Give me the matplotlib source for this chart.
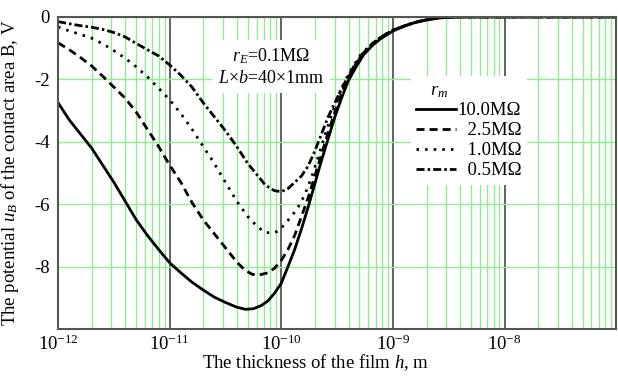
import numpy as np
import matplotlib
matplotlib.use("Agg")
import matplotlib.pyplot as plt

# log10 of film thickness h (m) and potential u_B (V)
log_h_10 = [-12.0, -11.9, -11.8, -11.7, -11.6, -11.5, -11.4, -11.3, -11.2, -11.1,
            -11.0, -10.9, -10.8, -10.7, -10.6, -10.5, -10.4, -10.32, -10.25, -10.18,
            -10.12, -10.06, -10.0, -9.94, -9.88, -9.82, -9.76, -9.70, -9.64, -9.58,
            -9.52, -9.46, -9.40, -9.33, -9.26, -9.18, -9.11, -9.0, -8.9, -8.8,
            -8.7, -8.6, -8.5, -8.4, -7.0]
u_10 = [-2.75, -3.3, -3.75, -4.2, -4.75, -5.3, -5.9, -6.5, -7.0, -7.45,
        -7.88, -8.2, -8.5, -8.75, -8.98, -9.15, -9.3, -9.37, -9.35, -9.25,
        -9.1, -8.85, -8.53, -8.0, -7.45, -6.8, -6.1, -5.35, -4.6, -3.9,
        -3.2, -2.6, -2.05, -1.6, -1.2, -0.9, -0.7, -0.45, -0.3, -0.18,
        -0.1, -0.04, -0.01, 0.0, 0.0]

log_h_25 = [-12.0, -11.9, -11.8, -11.7, -11.6, -11.5, -11.4, -11.3, -11.2, -11.1,
            -11.0, -10.9, -10.8, -10.7, -10.6, -10.5, -10.4, -10.33, -10.26, -10.2,
            -10.12, -10.06, -10.0, -9.94, -9.88, -9.82, -9.76, -9.70, -9.64, -9.58,
            -9.52, -9.46, -9.40, -9.34, -9.27, -9.19, -9.12, -9.01, -8.9, -8.8,
            -8.7, -8.6, -8.5, -8.4, -7.0]
u_25 = [-0.83, -1.05, -1.3, -1.57, -1.9, -2.25, -2.6, -3.05, -3.6, -4.15,
        -4.75, -5.3, -5.95, -6.5, -6.95, -7.4, -7.85, -8.1, -8.25, -8.27,
        -8.2, -8.05, -7.8, -7.45, -7.0, -6.4, -5.8, -5.1, -4.4, -3.7,
        -3.05, -2.45, -1.95, -1.55, -1.18, -0.88, -0.68, -0.44, -0.29, -0.17,
        -0.09, -0.03, -0.01, 0.0, 0.0]

log_h_1 = [-12.0, -11.9, -11.8, -11.7, -11.6, -11.5, -11.4, -11.3, -11.2, -11.1,
           -11.0, -10.9, -10.8, -10.7, -10.6, -10.5, -10.4, -10.3, -10.22, -10.15,
           -10.08, -10.02, -9.96, -9.9, -9.85, -9.79, -9.73, -9.67, -9.61, -9.55,
           -9.49, -9.43, -9.36, -9.29, -9.2, -9.12, -9.01, -8.9, -8.8, -8.7,
           -8.6, -8.5, -8.4, -7.0]
u_1 = [-0.32, -0.45, -0.56, -0.68, -0.86, -1.08, -1.32, -1.6, -1.92, -2.28,
       -2.66, -3.1, -3.6, -4.15, -4.7, -5.3, -5.9, -6.4, -6.7, -6.9,
       -6.93, -6.85, -6.6, -6.35, -6.1, -5.7, -5.15, -4.5, -3.8, -3.15,
       -2.55, -2.05, -1.6, -1.22, -0.9, -0.68, -0.44, -0.29, -0.17, -0.09,
       -0.03, -0.01, 0.0, 0.0]

log_h_05 = [-12.0, -11.9, -11.8, -11.7, -11.6, -11.5, -11.4, -11.3, -11.2, -11.1,
            -11.0, -10.9, -10.8, -10.7, -10.6, -10.5, -10.4, -10.3, -10.22, -10.14,
            -10.06, -10.0, -9.94, -9.88, -9.82, -9.76, -9.70, -9.64, -9.58, -9.52,
            -9.46, -9.40, -9.34, -9.27, -9.19, -9.12, -9.01, -8.9, -8.8, -8.7,
            -8.6, -8.5, -8.4, -7.0]
u_05 = [-0.15, -0.22, -0.28, -0.33, -0.4, -0.5, -0.64, -0.85, -1.05, -1.25,
        -1.54, -1.87, -2.25, -2.75, -3.2, -3.65, -4.15, -4.7, -5.05, -5.4,
        -5.57, -5.6, -5.5, -5.3, -5.1, -4.78, -4.3, -3.75, -3.2, -2.75,
        -2.3, -1.9, -1.52, -1.18, -0.88, -0.68, -0.44, -0.29, -0.17, -0.09,
        -0.03, -0.01, 0.0, 0.0]

labels = ["10.0M\u03a9", "  2.5M\u03a9", "  1.0M\u03a9", "  0.5M\u03a9"]
x_ticks = [1e-12, 1e-11, 1e-10, 1e-9, 1e-8]
x_tick_labels = ["$10^{-12}$", "$10^{-11}$", "$10^{-10}$", "$10^{-9}$", "$10^{-8}$"]
y_ticks = [0, -2, -4, -6, -8]
y_tick_labels = ["0", "-2", "-4", "-6", "-8"]

# Times-like look everywhere, mathtext included
plt.rcParams["font.family"] = ["Liberation Serif", "DejaVu Serif"]
plt.rcParams["mathtext.fontset"] = "custom"
plt.rcParams["mathtext.rm"] = "Liberation Serif"
plt.rcParams["mathtext.it"] = "Liberation Serif:italic"
plt.rcParams["axes.unicode_minus"] = False

fig = plt.figure(figsize=(6.18, 3.76), dpi=100)
ax = fig.add_axes([0.094, 0.125, 0.903, 0.830])

green = "#90ec90"
ax.set_xscale("log")
ax.set_xlim(1e-12, 1e-7)
ax.set_ylim(-10, 0)

# grid: green minor decades + horizontal lines, dark decade lines
ax.xaxis.grid(True, which="minor", color=green, lw=1.0)
ax.xaxis.grid(True, which="major", color="#555555", lw=1.3)
ax.yaxis.grid(True, which="major", color=green, lw=1.0)
ax.set_axisbelow(True)
for s in ax.spines.values():
    s.set_color("#555555")
    s.set_linewidth(1.5)

ax.set_xticks(x_ticks)
ax.set_xticklabels(x_tick_labels)
ax.set_yticks(y_ticks)
ax.set_yticklabels(y_tick_labels)
ax.tick_params(which="both", length=0, labelsize=13.5)
ax.tick_params(axis="x", pad=4)
ax.tick_params(axis="y", pad=6)

# the four curves
lw = 2.0
ax.plot(10 ** np.array(log_h_10), u_10, color="black", lw=lw, label=labels[0],
        solid_joinstyle="round")
ax.plot(10 ** np.array(log_h_25), u_25, color="black", lw=lw, label=labels[1],
        linestyle=(0, (2.9, 1.8)))
ax.plot(10 ** np.array(log_h_1), u_1, color="black", lw=lw, label=labels[2],
        linestyle=(0, (0.9, 2.2)))
ax.plot(10 ** np.array(log_h_05), u_05, color="black", lw=lw, label=labels[3],
        linestyle=(0, (2.9, 1.1, 0.9, 1.1)))

ax.set_xlabel("The thickness of the film $h$, m", fontsize=13.5)
ax.xaxis.set_label_coords(0.462, -0.075)
ax.set_ylabel("The potential $u_B$ of the contact area B, V", fontsize=13.5)
ax.yaxis.set_label_coords(-0.066, 0.5)

ax.text(0.382, 0.84, "$r_E$=0.1M\u03a9\n$L$\u00d7$b$=40\u00d71mm", transform=ax.transAxes,
        ha="center", va="center", fontsize=13, linespacing=1.35,
        bbox=dict(facecolor="white", edgecolor="none", pad=4), zorder=3)

leg = ax.legend(loc="upper left", bbox_to_anchor=(0.615, 0.84), title="   $r_m$",
                fontsize=13.5, title_fontsize=13.5, handlelength=2.1,
                handletextpad=0.1, labelspacing=0.15, borderpad=0.3,
                frameon=True, fancybox=False, framealpha=1.0,
                edgecolor="none", facecolor="white", alignment="left")
leg.set_zorder(3)

fig.savefig("out.png", dpi=100)
